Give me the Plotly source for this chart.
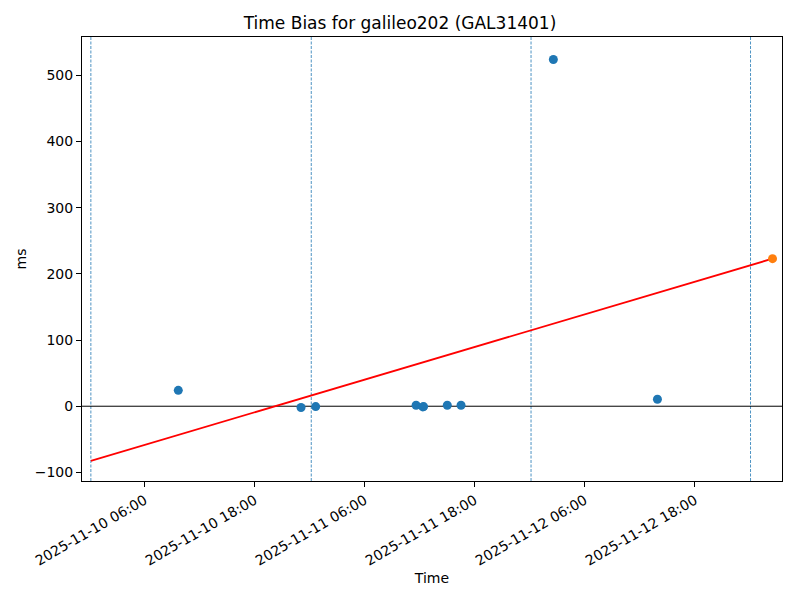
import plotly.graph_objects as go

# Observed time-bias samples
obs_times = [
    "2025-11-10 09:40", "2025-11-10 23:03", "2025-11-11 00:39",
    "2025-11-11 11:36", "2025-11-11 12:20", "2025-11-11 12:25",
    "2025-11-11 15:00", "2025-11-11 16:30", "2025-11-12 02:34",
    "2025-11-12 13:55",
]
obs_ms = [24, -2, -0.5, 1.5, -1, -0.5, 1.5, 1.5, 524, 10.5]

# Predicted point and trend line
pred_time = ["2025-11-13 02:28"]
pred_ms = [223]
trend_times = ["2025-11-10 00:08", "2025-11-13 02:28"]
trend_ms = [-82.5, 223]

# Day boundary markers
day_lines = ["2025-11-10 00:08", "2025-11-11 00:10", "2025-11-12 00:08", "2025-11-13 00:04"]

x_range = ["2025-11-09 23:10", "2025-11-13 03:30"]
y_range = [-113, 558]
y_ticks = [-100, 0, 100, 200, 300, 400, 500]

fig = go.Figure()

for t in day_lines:
    fig.add_shape(type="line", xref="x", yref="paper", x0=t, x1=t, y0=0, y1=1,
                  line=dict(color="#1f77b4", width=0.8, dash="3px,1.5px"), layer="below")

fig.add_shape(type="line", xref="paper", yref="y", x0=0, x1=1, y0=0, y1=0,
              line=dict(color="black", width=1), layer="below")

fig.add_trace(go.Scatter(x=trend_times, y=trend_ms, mode="lines",
                         line=dict(color="red", width=1.8), showlegend=False))
fig.add_trace(go.Scatter(x=obs_times, y=obs_ms, mode="markers",
                         marker=dict(color="#1f77b4", size=9), showlegend=False))
fig.add_trace(go.Scatter(x=pred_time, y=pred_ms, mode="markers",
                         marker=dict(color="#ff7f0e", size=9), showlegend=False))

fig.update_layout(
    width=800, height=600,
    margin=dict(l=82, r=18, t=37, b=119),
    paper_bgcolor="white", plot_bgcolor="white",
    font=dict(family="DejaVu Sans", size=14, color="black"),
    title=dict(text="Time Bias for galileo202 (GAL31401)", x=0.5, xanchor="center",
               y=1 - 23 / 600, yanchor="middle", font=dict(size=17)),
    showlegend=False,
)

fig.update_xaxes(
    type="date", range=x_range,
    tick0="2025-11-10 06:00", dtick=12 * 3600 * 1000,
    tickformat="%Y-%m-%d %H:%M", tickangle=-30,
    showgrid=False, zeroline=False,
    showline=True, linecolor="black", linewidth=1, mirror=True,
    ticks="outside", ticklen=5, tickcolor="black",
    title=dict(text="Time", font=dict(size=14), standoff=5),
)
fig.update_yaxes(
    range=y_range, tickvals=y_ticks,
    showgrid=False, zeroline=False,
    showline=True, linecolor="black", linewidth=1, mirror=True,
    ticks="outside", ticklen=5, tickcolor="black",
    title=dict(text="ms", font=dict(size=14), standoff=4),
)

fig.write_html("out.html", config={"displayModeBar": False},
               post_script="document.body.style.margin='0px';")
